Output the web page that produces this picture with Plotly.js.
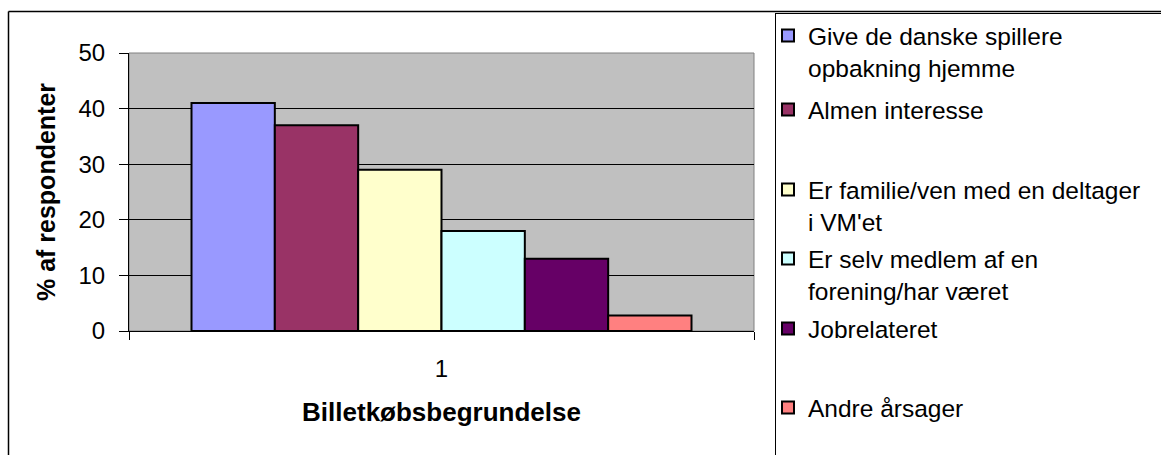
<!DOCTYPE html>
<html>
<head>
<meta charset="utf-8">
<script src="https://cdn.plot.ly/plotly-3.0.1.min.js"></script>
<style>html,body{margin:0;padding:0;background:#fff;}#chart{width:1161px;height:455px;}</style>
</head>
<body>
<div id="chart"></div>
<script>
// ---- data ----
const category = ['1'];
const seriesNames = [
  'Give de danske spillere<br>opbakning hjemme',
  'Almen interesse',
  'Er familie/ven med en deltager<br>i VM\'et',
  'Er selv medlem af en<br>forening/har været',
  'Jobrelateret',
  'Andre årsager'
];
const seriesValues = [41, 37, 29, 18, 13, 2.8];
const seriesColors = ['#9999FF', '#993366', '#FFFFCC', '#CCFFFF', '#660066', '#FF8080'];
const yTickVals = [0, 10, 20, 30, 40, 50];
const xTitle = 'Billetkøbsbegrundelse';
const yTitle = '% af respondenter';

// ---- layout helpers (pixel -> paper) ----
const FIG_W = 1161, FIG_H = 455;
const M = {l: 129, r: 1161 - 754, t: 53, b: 455 - 331};
const PW = FIG_W - M.l - M.r, PH = FIG_H - M.t - M.b;
const px = x => (x - M.l) / PW;
const py = y => (FIG_H - M.b - y) / PH;

const FONT = '"Liberation Sans", Arial, sans-serif';
const legendTops = [33, 107, 187, 256, 326, 405]; // first-line centres (px)

const traces = seriesNames.map((n, i) => ({
  type: 'bar',
  x: category,
  y: [seriesValues[i]],
  name: n,
  marker: {color: seriesColors[i], line: {color: '#000000', width: 2}},
  legend: i === 0 ? 'legend' : 'legend' + (i + 1),
  hoverinfo: 'skip'
}));

const layout = {
  width: FIG_W, height: FIG_H,
  margin: M,
  paper_bgcolor: '#FFFFFF',
  plot_bgcolor: '#C0C0C0',
  font: {family: FONT, size: 24, color: '#000'},
  barmode: 'group',
  bargap: 0.2,
  bargroupgap: 0,
  showlegend: true,
  xaxis: {
    type: 'category',
    range: [-0.5, 0.5],
    showline: true, linecolor: '#000', linewidth: 1,
    ticks: 'outside', tickson: 'boundaries', ticklen: 8, tickcolor: '#000',
    ticklabelstandoff: 16,
    showgrid: false, zeroline: false,
    tickfont: {family: FONT, size: 24},
    title: {text: xTitle, font: {family: FONT, size: 26, weight: 'bold'}, standoff: 22}
  },
  yaxis: {
    range: [0, 50],
    tickvals: yTickVals,
    showline: true, linecolor: '#000', linewidth: 1,
    ticks: 'outside', ticklen: 9, tickcolor: '#000',
    ticklabelstandoff: 9,
    showgrid: true, gridcolor: '#000', gridwidth: 1,
    zeroline: false,
    tickfont: {family: FONT, size: 24},
    title: {text: yTitle, font: {family: FONT, size: 25, weight: 'bold'}, standoff: 15}
  },
  shapes: [
    // plot-area border (grey)
    {type: 'rect', xref: 'paper', yref: 'paper', x0: 0, x1: 1, y0: 0, y1: 1,
     line: {color: '#808080', width: 1}, layer: 'below'},
    // outer chart frame
    {type: 'line', xref: 'paper', yref: 'paper', x0: px(8.5), x1: px(1165), y0: py(11.5), y1: py(11.5),
     line: {color: '#000', width: 1.5}},
    {type: 'line', xref: 'paper', yref: 'paper', x0: px(8.5), x1: px(8.5), y0: py(11.5), y1: py(470),
     line: {color: '#000', width: 1.5}},
    // legend box
    {type: 'line', xref: 'paper', yref: 'paper', x0: px(775.5), x1: px(1165), y0: py(13.5), y1: py(13.5),
     line: {color: '#000', width: 1}},
    {type: 'line', xref: 'paper', yref: 'paper', x0: px(775.5), x1: px(775.5), y0: py(13), y1: py(470),
     line: {color: '#000', width: 1}}
  ]
};

seriesNames.forEach((n, i) => {
  const key = i === 0 ? 'legend' : 'legend' + (i + 1);
  layout[key] = {
    x: px(768), xanchor: 'left',
    y: py(legendTops[i] - 20), yanchor: 'top',
    bgcolor: 'rgba(0,0,0,0)', borderwidth: 0,
    font: {family: FONT, size: 24.5, color: '#000'},
    valign: 'top', itemwidth: 30,
    itemclick: false, itemdoubleclick: false
  };
});

Plotly.newPlot('chart', traces, layout, {staticPlot: true, displayModeBar: false});
</script>
</body>
</html>
